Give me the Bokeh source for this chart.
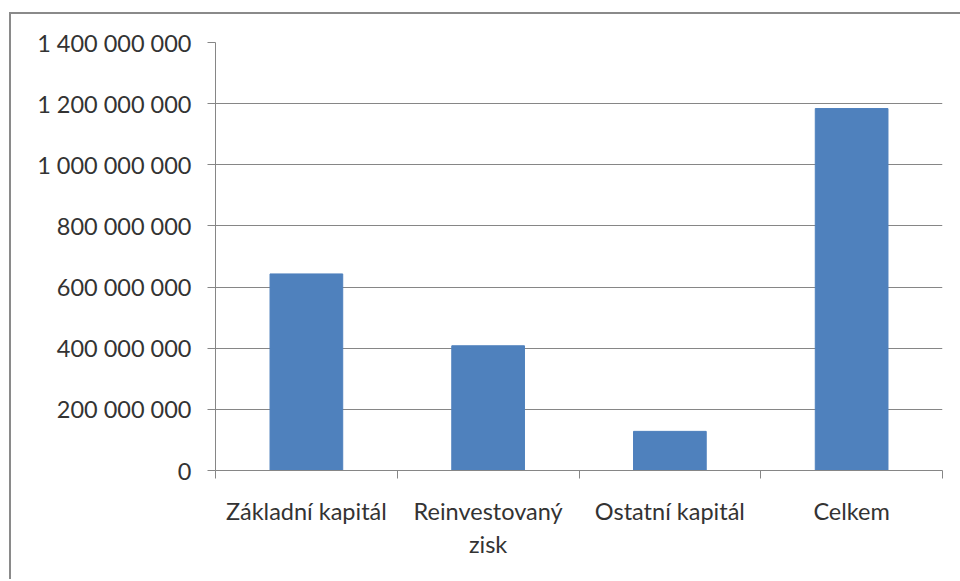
from bokeh.plotting import figure
from bokeh.models import Range1d, FixedTicker, Spacer
from bokeh.layouts import column, row
from bokeh.embed import file_html
from bokeh.resources import INLINE

categories = ["Základní kapitál", "Reinvestovaný\nzisk", "Ostatní kapitál", "Celkem"]
values = [643_000_000, 408_000_000, 128_000_000, 1_184_000_000]
y_ticks = [0, 200_000_000, 400_000_000, 600_000_000, 800_000_000,
           1_000_000_000, 1_200_000_000, 1_400_000_000]
y_tick_labels = ["0", "200 000 000", "400 000 000", "600 000 000", "800 000 000",
                 "1 000 000 000", "1 200 000 000", "1 400 000 000"]

n = len(categories)
x_pos = [i + 0.5 for i in range(n)]
bounds = [float(i) for i in range(n + 1)]

FONT = "Lato"
TEXT = "#333333"
GRID = "#868686"
AXIS = "#868686"
FRAME = {"background-color": "#8a8a8a"}

p = figure(width=949, height=565,
           x_range=Range1d(0, n), y_range=Range1d(0, y_ticks[-1]),
           output_backend="svg", toolbar_location=None,
           min_border_left=204, min_border_right=18,
           min_border_top=28, min_border_bottom=109)
p.outline_line_color = None
p.background_fill_color = "white"
p.border_fill_color = "white"

p.vbar(x=x_pos, top=values, width=0.4, fill_color="#4F81BD", line_color="#4F81BD")

# x axis: labels at category centres, ticks at category boundaries
xa = p.xaxis[0]
xa.ticker = FixedTicker(ticks=x_pos, minor_ticks=bounds)
xa.major_label_overrides = {x: c for x, c in zip(x_pos, categories)}
xa.major_tick_line_color = None
xa.minor_tick_line_color = AXIS
xa.minor_tick_out = 8
xa.minor_tick_in = 0
xa.axis_line_color = AXIS
xa.major_label_text_font = FONT
xa.major_label_text_font_size = "23.5px"
xa.major_label_text_color = TEXT
xa.major_label_standoff = 18
p.xgrid.grid_line_color = None

ya = p.yaxis[0]
ya.ticker = FixedTicker(ticks=y_ticks)
ya.major_label_overrides = {t: l for t, l in zip(y_ticks, y_tick_labels)}
ya.major_tick_line_color = AXIS
ya.major_tick_out = 8
ya.major_tick_in = 0
ya.minor_tick_line_color = None
ya.axis_line_color = AXIS
ya.major_label_text_font = FONT
ya.major_label_text_font_size = "23.5px"
ya.major_label_text_color = TEXT
ya.major_label_standoff = 16
p.ygrid.grid_line_color = GRID
p.ygrid.ticker = FixedTicker(ticks=y_ticks)

layout = column(
    Spacer(width=960, height=12),
    row(Spacer(width=9, height=567),
        Spacer(width=2, height=567, styles=FRAME),
        column(Spacer(width=949, height=2, styles=FRAME), p)),
)

open("out.html", "w").write(file_html(layout, INLINE))
